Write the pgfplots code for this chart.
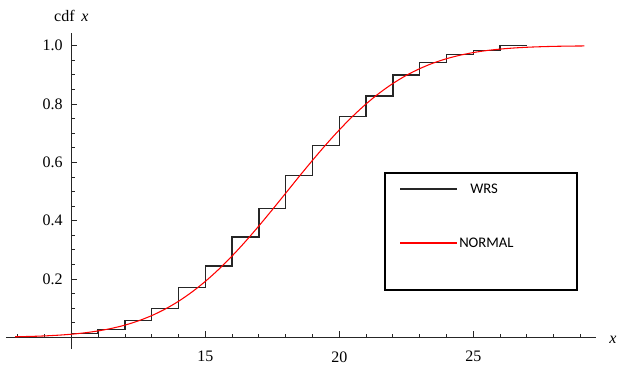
\documentclass[border=0pt]{standalone}
\usepackage{fontspec}
\setmainfont{Liberation Serif}
\newfontfamily\carlito{Carlito}
\usepackage{pgfplots}
\usepackage{pgfplotstable}
\pgfplotsset{compat=1.18}

\pgfplotstableread{
x y
10 0.0137
11 0.0274
12 0.0570
13 0.0995
14 0.1715
15 0.2445
16 0.3440
17 0.4420
18 0.5556
19 0.6570
20 0.7565
21 0.8275
22 0.8995
23 0.9430
24 0.9705
25 0.9830
26 1.0000
27 1.0000
}\wrstab

\pgfplotstableread{
x y
7.9 0.0019
8.5 0.0032
9 0.0049
9.5 0.0073
10 0.0107
10.5 0.0155
11 0.0220
11.5 0.0307
12 0.0419
12.5 0.0564
13 0.0745
13.5 0.0968
14 0.1236
14.5 0.1553
15 0.1918
15.5 0.2331
16 0.2790
16.5 0.3289
17 0.3821
17.5 0.4376
18 0.4943
18.5 0.5513
19 0.6069
19.5 0.6606
20 0.7113
20.5 0.7580
21 0.8004
21.5 0.8379
22 0.8705
22.5 0.8982
23 0.9213
23.5 0.9403
24 0.9554
24.5 0.9673
25 0.9765
25.5 0.9834
26 0.9884
26.5 0.9921
27 0.9947
27.5 0.9965
28 0.9978
28.5 0.9986
29 0.9991
29.15 0.9992
}\normtab

\begin{document}
\begin{tikzpicture}
\begin{axis}[name=ax,
  scale only axis, width=442.5pt, height=237pt,
  axis lines=middle,
  axis line style={-, line width=0.75pt, black!85},
  xmin=-2.437, xmax=19.58, ymin=-0.040, ymax=1.0436,
  x filter/.expression={x-10},
  xtick={5,10,15}, xticklabels={15,20,25},
  minor xtick={-2,-1,1,2,3,4,6,7,8,9,11,12,13,14,16,17,18,19},
  ytick={0.2,0.4,0.6,0.8,1.0}, yticklabels={0.2,0.4,0.6,0.8,1.0},
  minor ytick={0.05,0.1,0.15,0.25,0.3,0.35,0.45,0.5,0.55,0.65,0.7,0.75,0.85,0.9,0.95},
  tick align=inside, major tick length=4.5pt, minor tick length=2.6pt,
  every tick/.style={black!85, line width=0.6pt},
  /pgf/number format/assume math mode=true,
  xticklabel style={font=\fontsize{12}{14}\selectfont, yshift=-7pt},
  yticklabel style={font=\fontsize{12}{14}\selectfont, xshift=-3pt},
  every axis y label/.style={at={(rel axis cs:0.1107,1)}, anchor=south, yshift=5pt, font=\fontsize{12}{14}\selectfont},
  every axis x label/.style={at={(rel axis cs:1,0.0369)}, anchor=west, xshift=6.5pt, yshift=-1.5pt, font=\fontsize{12}{14}\selectfont},
  ylabel={cdf\, \textit{x}}, xlabel={\textit{x}},
  legend style={draw=none, fill=none, inner sep=0pt, at={(rel axis cs:0.6661,0.5275)}, anchor=north west,
    row sep=30.5pt, column sep=0.75pt, cells={anchor=west},
    nodes={inner sep=0pt, text height=8pt, text depth=2pt},
    font=\carlito\fontsize{11}{13}\selectfont},
  legend image code/.code={\draw[#1, line width=1.5pt] (0pt,0pt) -- (42.75pt,0pt);},
]
\addplot[const plot, black!85, line width=1pt] table[x=x,y=y]{\wrstab};
\addlegendentry{\hspace{8.25pt}WRS}
\addplot[red, line width=0.8pt, smooth] table[x=x,y=y]{\normtab};
\addlegendentry{NORMAL}
\draw[line width=1.5pt] (rel axis cs:0.6424,0.1877) rectangle (rel axis cs:0.9678,0.5579);
\end{axis}
\pgfresetboundingbox
\path ([shift={(-4.5pt,-12.75pt)}]ax.south west) rectangle ([shift={(16.5pt,24.75pt)}]ax.north east);
\end{tikzpicture}
\end{document}
